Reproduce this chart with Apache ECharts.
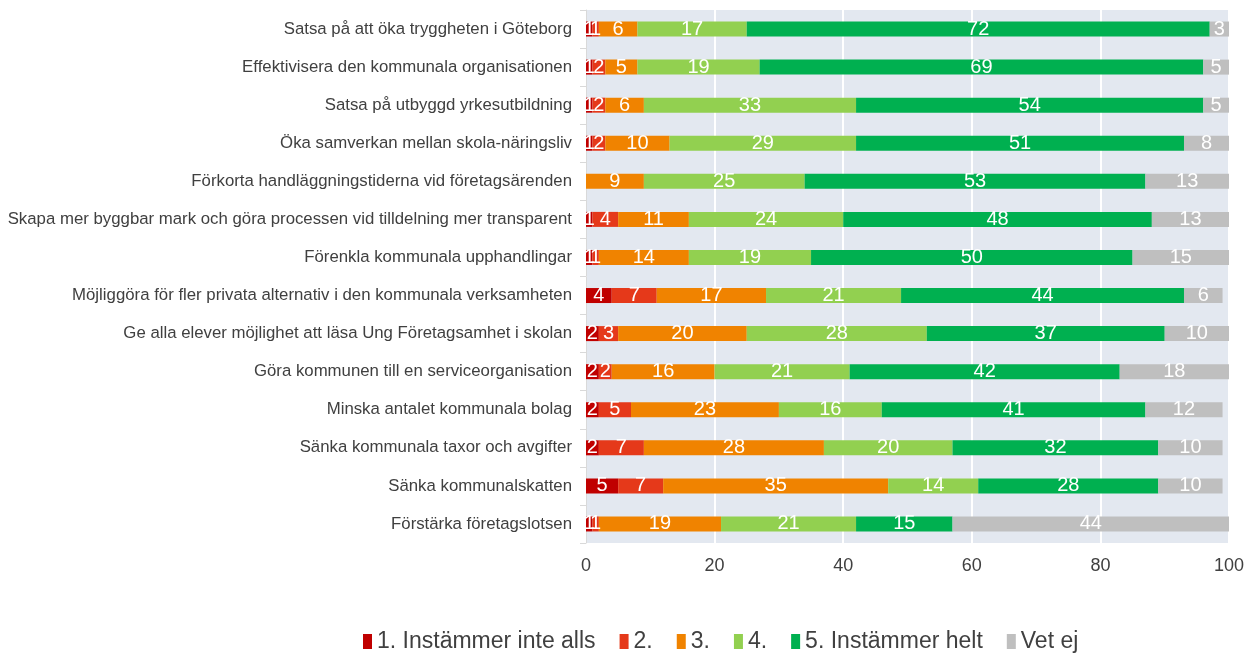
<!DOCTYPE html>
<html>
<head>
<meta charset="utf-8">
<script src="https://cdn.jsdelivr.net/npm/echarts@6/dist/echarts.min.js"></script>
<style>
  html, body { margin: 0; padding: 0; background: #fff; }
  #chart { width: 1256px; height: 655px; }
</style>
</head>
<body>
<div id="chart"></div>
<script>
const categories = [
  "Satsa på att öka tryggheten i Göteborg",
  "Effektivisera den kommunala organisationen",
  "Satsa på utbyggd yrkesutbildning",
  "Öka samverkan mellan skola-näringsliv",
  "Förkorta handläggningstiderna vid företagsärenden",
  "Skapa mer byggbar mark och göra processen vid tilldelning mer transparent",
  "Förenkla kommunala upphandlingar",
  "Möjliggöra för fler privata alternativ i den kommunala verksamheten",
  "Ge alla elever möjlighet att läsa Ung Företagsamhet i skolan",
  "Göra kommunen till en serviceorganisation",
  "Minska antalet kommunala bolag",
  "Sänka kommunala taxor och avgifter",
  "Sänka kommunalskatten",
  "Förstärka företagslotsen"
];
const seriesNames = ["1. Instämmer inte alls", "2.", "3.", "4.", "5. Instämmer helt", "Vet ej"];
const colors = ["#C00000", "#E5391A", "#F08300", "#92D050", "#00B050", "#BFBFBF"];

const s1 = [1, 1, 1, 1, 0, 1, 1, 4, 2, 2, 2, 2, 5, 1];
const s2 = [1, 2, 2, 2, 0, 4, 1, 7, 3, 2, 5, 7, 7, 1];
const s3 = [6, 5, 6, 10, 9, 11, 14, 17, 20, 16, 23, 28, 35, 19];
const s4 = [17, 19, 33, 29, 25, 24, 19, 21, 28, 21, 16, 20, 14, 21];
const s5 = [72, 69, 54, 51, 53, 48, 50, 44, 37, 42, 41, 32, 28, 15];
const vetEj = [3, 5, 5, 8, 13, 13, 15, 6, 10, 18, 12, 10, 10, 44];
const xTicks = [0, 20, 40, 60, 80, 100];

const allData = [s1, s2, s3, s4, s5, vetEj];

const chart = echarts.init(document.getElementById("chart"));
chart.setOption({
  animation: false,
  textStyle: { fontFamily: "'Liberation Sans', Arial, sans-serif" },
  color: colors,
  grid: {
    left: 586, right: 27, top: 10, bottom: 112,
    show: true, backgroundColor: "#E3E8F0", borderWidth: 0
  },
  legend: {
    top: 625, left: 358,
    itemWidth: 9, itemHeight: 15, itemGap: 24,
    icon: "rect",
    textStyle: { fontSize: 23, color: "#404040" },
    data: seriesNames
  },
  xAxis: {
    type: "value", min: 0, max: 100, interval: 20,
    axisLine: { show: false }, axisTick: { show: false },
    splitLine: { show: true, lineStyle: { color: "#ffffff", width: 2 } },
    axisLabel: {
      fontSize: 18, color: "#404040", margin: 14,
      formatter: v => xTicks.includes(v) ? String(v) : ""
    }
  },
  yAxis: {
    type: "category", data: categories, inverse: true,
    axisLine: { show: true, lineStyle: { color: "#D9D9D9" } },
    axisTick: { show: true, length: 6, lineStyle: { color: "#D9D9D9" } },
    axisLabel: { fontSize: 16.8, color: "#404040", margin: 14 }
  },
  series: allData.map((d, i) => ({
    name: seriesNames[i],
    type: "bar",
    stack: "total",
    barWidth: 15,
    data: d.map(v => v === 0 ? null : v),
    label: {
      show: true, position: "inside", color: "#ffffff", fontSize: 20,
      formatter: p => (p.value ? String(p.value) : "")
    }
  }))
});
</script>
</body>
</html>
